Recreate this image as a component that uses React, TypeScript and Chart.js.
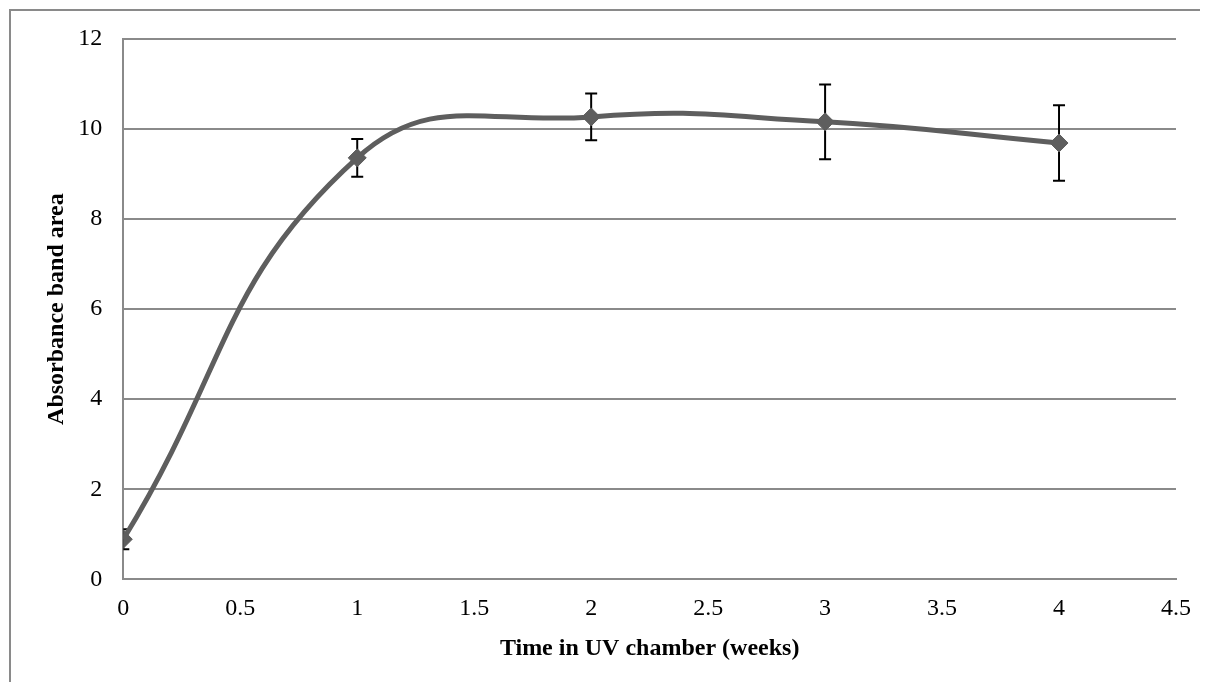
import React, { useEffect, useRef } from "react";
import { Chart, registerables } from "chart.js";

Chart.register(...registerables);

const weeks = [0, 1, 2, 3, 4];
const absorbance = [0.89, 9.36, 10.27, 10.16, 9.69];
const errors = [0.22, 0.42, 0.52, 0.83, 0.84];
const xTicksMax = 4.5;
const yTicksMax = 12;

const FONT = "'Liberation Serif', 'Times New Roman', serif";
const GRID = "#8a8a8a";

const errorBarPlugin = {
  id: "errorBars",
  beforeDatasetsDraw(chart: any) {
    const ctx = chart.ctx;
    const xs = chart.scales.x;
    const ys = chart.scales.y;
    const a = chart.chartArea;
    ctx.save();
    ctx.beginPath();
    ctx.rect(a.left, a.top, a.right - a.left, a.bottom - a.top);
    ctx.clip();
    ctx.strokeStyle = "#000000";
    ctx.lineWidth = 2;
    weeks.forEach((w, i) => {
      const x = xs.getPixelForValue(w);
      const yt = ys.getPixelForValue(absorbance[i] + errors[i]);
      const yb = ys.getPixelForValue(absorbance[i] - errors[i]);
      ctx.beginPath();
      ctx.moveTo(x, yt);
      ctx.lineTo(x, yb);
      ctx.moveTo(x - 6, yt);
      ctx.lineTo(x + 6, yt);
      ctx.moveTo(x - 6, yb);
      ctx.lineTo(x + 6, yb);
      ctx.stroke();
    });
    ctx.restore();
  },
};

export default function App() {
  const ref = useRef<HTMLCanvasElement | null>(null);

  useEffect(() => {
    if (!ref.current) return;
    const chart = new Chart(ref.current, {
      type: "line",
      data: {
        datasets: [
          {
            data: weeks.map((w, i) => ({ x: w, y: absorbance[i] })),
            borderColor: "#5e5e5e",
            backgroundColor: "#5e5e5e",
            borderWidth: 5,
            tension: 0.45,
            pointStyle: "rectRot",
            pointRadius: 9,
            pointBorderWidth: 1,
            pointBorderColor: "#5e5e5e",
            pointBackgroundColor: "#5e5e5e",
            fill: false,
          },
        ],
      },
      options: {
        animation: false,
        responsive: false,
        maintainAspectRatio: false,
        layout: { padding: { top: 29, right: 32, left: 0, bottom: 0 } },
        plugins: {
          legend: { display: false },
          tooltip: { enabled: false },
        },
        scales: {
          x: {
            type: "linear",
            min: 0,
            max: xTicksMax,
            ticks: {
              stepSize: 0.5,
              padding: 15,
              color: "#000",
              font: { family: FONT, size: 24 },
              callback: (v: any) => String(Number(v)),
            },
            grid: { display: false, drawTicks: false },
            border: { display: true, color: GRID, width: 2 },
            title: {
              display: true,
              text: "Time in UV chamber (weeks)",
              color: "#000",
              font: { family: FONT, size: 24, weight: "bold" },
              padding: { top: 0, bottom: 19 },
            },
            afterFit(scale: any) {
              scale.height = 102.7;
              scale.paddingLeft = 0;
              scale.paddingRight = 0;
            },
          },
          y: {
            min: 0,
            max: yTicksMax,
            ticks: {
              stepSize: 2,
              padding: 21,
              color: "#000",
              font: { family: FONT, size: 24 },
              callback: (v: any) => String(Number(v)),
            },
            grid: { color: GRID, lineWidth: 2, drawTicks: false },
            border: { display: true, color: GRID, width: 2 },
            title: {
              display: true,
              text: "Absorbance band area",
              color: "#000",
              font: { family: FONT, size: 24, weight: "bold" },
              padding: { top: 32, bottom: 0 },
            },
            afterFit(scale: any) {
              scale.width = 113.3;
              scale.paddingTop = 0;
              scale.paddingBottom = 0;
            },
          },
        },
      },
      plugins: [errorBarPlugin],
    });
    return () => chart.destroy();
  }, []);

  return (
    <div
      style={{
        position: "relative",
        width: 1200,
        height: 674,
        overflow: "hidden",
        background: "#fff",
      }}
    >
      <div
        style={{
          position: "absolute",
          left: 1,
          top: 1,
          width: 2000,
          height: 2000,
          border: "2px solid #8a8a8a",
          boxSizing: "border-box",
        }}
      />
      <canvas
        ref={ref}
        width={1198}
        height={672}
        style={{ position: "absolute", left: 2, top: 2, width: 1198, height: 672 }}
      />
    </div>
  );
}
